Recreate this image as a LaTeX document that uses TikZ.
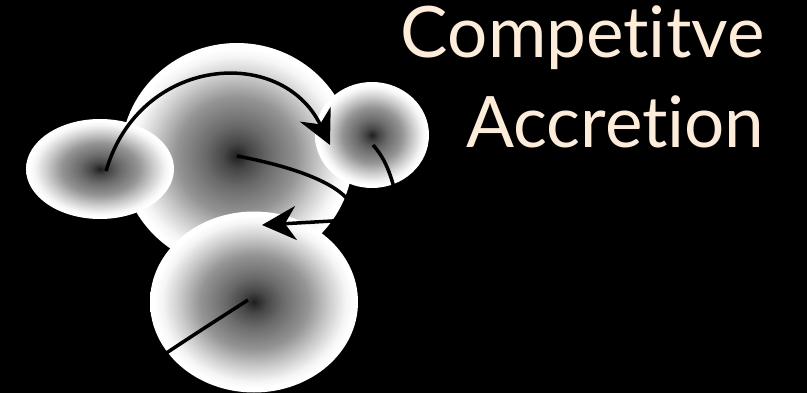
\documentclass[tikz,border=0pt]{standalone}
\usepackage{fontspec}
\setmainfont{Lato}[Ligatures=NoCommon]
\usepackage{xcolor}
\usepackage{tikz}
\usetikzlibrary{arrows.meta,shapes.geometric}

\definecolor{cream}{RGB}{252,236,216}
\pgfdeclareradialshading{clumpshade}{\pgfpoint{0bp}{0bp}}{%
  color(0bp)=(black!88); color(3bp)=(black!72); color(7bp)=(black!58);
  color(13bp)=(black!42); color(18bp)=(black!20); color(22bp)=(black!4);
  color(24bp)=(white); color(50bp)=(white)}

\begin{document}
\begin{tikzpicture}[
  x=1pt, y=-1pt,
  clump/.style ={ellipse, inner sep=0pt, shading=clumpshade},
  flow/.style  ={line width=3.5pt, black},
  flowarr/.style={line width=3.5pt, black,
                  -{Stealth[length=34pt, width=34pt, inset=11pt]}},
  title/.style ={text=cream, font=\fontsize{71}{80}\selectfont}
]

%% ── Background ───────────────────────────────────────────────────────
\fill[black] (0,0) rectangle (807,393);
\useasboundingbox (0,0) rectangle (807,393);

%% ── Clumps ───────────────────────────────────────────────────────────
\node[clump, minimum width=232pt, minimum height=226pt] (big)    at (237,156) {};
\node[clump, minimum width=148pt, minimum height=100pt] (left)   at (100,169) {};
\node[clump, minimum width=114pt, minimum height=106pt] (small)  at (372,135) {};
\node[clump, minimum width=208pt, minimum height=181pt] (bottom) at (254,302) {};

%% ── Flows ────────────────────────────────────────────────────────────
\coordinate (leftstart) at (106,171);
\coordinate (tipsmall)  at (330,145);
\coordinate (tipbottom) at (262,225);
\coordinate (bigturn)   at (332,221);
\coordinate (smallend)  at (397,200);
\coordinate (bottomend) at (150,364);

\draw[flowarr] (leftstart) .. controls (140,55) and (282,45) .. (tipsmall);
\draw[flowarr] (big.center) .. controls (300,168) and (340,185) .. (352,205)
    .. controls (358,218) and (345,220) .. (bigturn) -- (tipbottom);
\draw[flow] (small.center) ++(1,10) .. controls (382,155) and (390,168) .. (smallend);
\draw[flow] (bottom.center) ++(-6,-2) .. controls (220,318) and (190,337) .. (bottomend);

%% ── Title ────────────────────────────────────────────────────────────
\node[title, anchor=base east] (line1) at (768,58)  {Competitve};
\node[title, anchor=base east] (line2) at (768,148) {Accretion};

\end{tikzpicture}
\end{document}
